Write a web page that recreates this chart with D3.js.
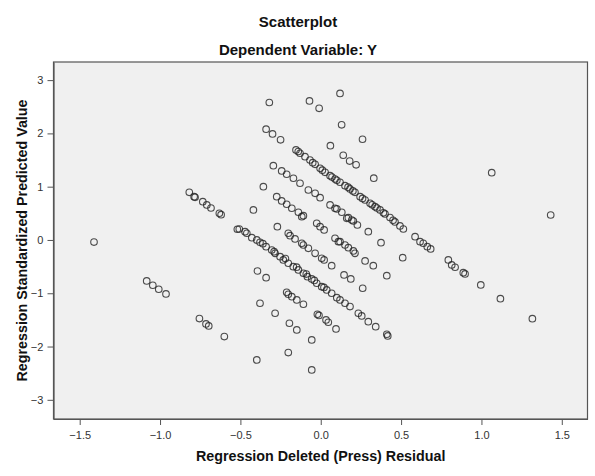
<!DOCTYPE html>
<html>
<head>
<meta charset="utf-8">
<script src="https://cdn.jsdelivr.net/npm/d3@7"></script>
<style>
  body { margin: 0; background: #ffffff; }
  svg text { font-family: "Liberation Sans", Arial, sans-serif; }
  .title { font-size: 15px; font-weight: bold; fill: #111; }
  .axis-title { font-size: 14.3px; font-weight: bold; fill: #111; }
  .tick text { font-size: 11px; fill: #333; }
</style>
</head>
<body>
<div id="chart"></div>
<script>
(function () {
  "use strict";

  // Regression Deleted (Press) Residual
  var residual = [
    -0.32, -0.07, -0.01, 0.12, 0.13, -0.34, -0.30, -0.25, 0.06, 0.26, 0.14, 0.18, 0.22, 0.33,
    -0.154, -0.129, -0.098, -0.067, -0.035, -0.004, 0.027, 0.058, 0.089, 0.120, 0.151, 0.182,
    0.213, 0.245, 0.276, 0.307, 0.338, 0.369, 0.400, 0.431, 0.462, 0.493, 0.514, 0.587, 0.618,
    0.638, 0.663, 0.684, 0.794, 0.815, 0.836, 0.887, 0.898, 0.996, 1.118, 1.317,
    -0.14, -0.05, 0.01, 0.07, 0.10, 0.17, 0.20, 0.26, 0.32, 0.35, 0.39, 0.45,
    -0.295, -0.243, -0.212, -0.170, -0.129, -0.077, -0.035, -0.004, 0.058, 0.089, 0.100, 0.131,
    0.172, 0.203, 0.162, 0.193, 0.228, 0.296, 0.375, 0.510,
    -0.357, -0.274, -0.243, -0.212, -0.180, -0.139, -0.108, -0.118, -0.025, -0.004, 0.021,
    0.089, 0.110, 0.120, 0.151, 0.172, 0.203, 0.213, 0.276, 0.327, 0.411,
    -0.818, -0.788, -0.782, -0.734, -0.709, -0.683, -0.631, -0.620, -0.519, -0.507, -0.471,
    -0.460, -0.429, -0.398, -0.378, -0.340, -0.305, -0.284, -0.253, -0.233, -0.202, -0.171,
    -0.139, -0.108, -0.083, -0.056, -0.025, 0.006, 0.037, 0.068, 0.100, 0.120, 0.151, 0.182,
    0.234, 0.255, 0.296, 0.342, 0.411, 0.417,
    -0.36, -0.29, -0.22, -0.15, -0.09, -0.04, 0.02,
    -0.419, -0.270, -0.202, -0.191, -0.160, -0.118, -0.108, -0.077, -0.035, 0.006, 0.021,
    0.068, 0.145, 0.187, 0.261,
    -0.394, -0.340, -0.212, -0.202, -0.180, -0.149, -0.108, -0.021, -0.011, 0.033, 0.047, 0.095,
    -0.378, -0.284, -0.195, -0.149, -0.056,
    -1.411, -1.083, -1.045, -1.008, -0.963, -0.755, -0.714, -0.697, -0.600,
    -0.398, -0.202, -0.056, 1.064, 1.431
  ];

  // Regression Standardized Predicted Value
  var predicted = [
    2.58, 2.61, 2.47, 2.75, 2.16, 2.08, 1.99, 1.88, 1.77, 1.89, 1.59, 1.48, 1.41, 1.16,
    1.689, 1.627, 1.563, 1.501, 1.420, 1.345, 1.270, 1.206, 1.144, 1.083, 1.019, 0.957,
    0.895, 0.812, 0.750, 0.689, 0.625, 0.563, 0.488, 0.422, 0.338, 0.263, 0.206, 0.062, -0.032,
    -0.062, -0.126, -0.169, -0.375, -0.469, -0.512, -0.613, -0.638, -0.844, -1.101, -1.477,
    1.66, 1.45, 1.31, 1.18, 1.12, 0.99, 0.92, 0.78, 0.66, 0.60, 0.51, 0.37,
    1.394, 1.295, 1.233, 1.158, 1.064, 0.938, 0.876, 0.794, 0.657, 0.595, 0.582, 0.520,
    0.418, 0.356, 0.407, 0.375, 0.281, 0.156, -0.051, -0.332,
    1.000, 0.812, 0.732, 0.670, 0.595, 0.520, 0.456, 0.437, 0.313, 0.250, 0.188,
    0.032, -0.032, -0.032, -0.094, -0.144, -0.206, -0.250, -0.394, -0.482, -0.670,
    0.895, 0.812, 0.801, 0.719, 0.657, 0.600, 0.501, 0.475, 0.201, 0.206, 0.156,
    0.126, 0.043, 0.000, -0.043, -0.126, -0.188, -0.250, -0.313, -0.375, -0.437, -0.501,
    -0.563, -0.625, -0.689, -0.732, -0.812, -0.876, -0.938, -1.000, -1.083, -1.126, -1.188, -1.251,
    -1.375, -1.426, -1.533, -1.627, -1.769, -1.801,
    -0.07, -0.22, -0.35, -0.51, -0.64, -0.76, -0.89,
    0.563, 0.250, 0.126, 0.081, 0.019, -0.062, -0.094, -0.156, -0.250, -0.343, -0.375,
    -0.482, -0.657, -0.732, -0.906,
    -0.582, -0.707, -0.981, -1.019, -1.064, -1.126, -1.206, -1.394, -1.416, -1.501, -1.544, -1.670,
    -1.188, -1.375, -1.563, -1.689, -1.876,
    -0.040, -0.769, -0.850, -0.925, -1.013, -1.476, -1.576, -1.613, -1.814,
    -2.251, -2.114, -2.439, 1.263, 0.469
  ];

  var xTicks = [-1.5, -1.0, -0.5, 0.0, 0.5, 1.0, 1.5];
  var yTicks = [-3, -2, -1, 0, 1, 2, 3];

  var width = 595,
      height = 476,
      plot = { left: 53.5, right: 587.5, top: 62, bottom: 419 },
      svg, x, y, points;

  points = residual.map(function (r, i) {
    return { x: r, y: predicted[i] };
  });

  // svg Setting
  svg = d3.select("#chart")
    .append("svg")
    .attr("width", width)
    .attr("height", height);

  // Scales
  x = d3.scaleLinear().domain([-1.663, 1.66]).range([plot.left, plot.right]);
  y = d3.scaleLinear().domain([-3.36, 3.34]).range([plot.bottom, plot.top]);

  // Plot background
  svg.append("rect")
    .attr("x", plot.left)
    .attr("y", plot.top)
    .attr("width", plot.right - plot.left)
    .attr("height", plot.bottom - plot.top)
    .attr("fill", "#f0f0f0")
    .attr("stroke", "#555")
    .attr("stroke-width", 1.2);

  // Axes
  var xAxis = svg.append("g")
    .attr("transform", "translate(0," + plot.bottom + ")")
    .call(d3.axisBottom(x).tickValues(xTicks).tickSize(6).tickSizeOuter(0).tickFormat(d3.format(".1f")));

  var yAxis = svg.append("g")
    .attr("transform", "translate(" + plot.left + ",0)")
    .call(d3.axisLeft(y).tickValues(yTicks).tickSize(6).tickSizeOuter(0).tickFormat(d3.format("d")));

  [xAxis, yAxis].forEach(function (a) {
    a.select(".domain").attr("stroke", "#555").attr("stroke-width", 1.2);
    a.selectAll(".tick line").attr("stroke", "#555");
  });
  xAxis.selectAll(".tick text").attr("dy", "1.0em");
  yAxis.selectAll(".tick text").attr("dx", "-0.1em");

  // Points
  svg.append("g")
    .selectAll("circle")
    .data(points)
    .enter()
    .append("circle")
    .attr("cx", function (d) { return x(d.x); })
    .attr("cy", function (d) { return y(d.y); })
    .attr("r", 3.3)
    .attr("fill", "none")
    .attr("stroke", "#222")
    .attr("stroke-opacity", 0.8)
    .attr("stroke-width", 1.1);

  // Titles
  svg.append("text")
    .attr("class", "title")
    .attr("x", 298)
    .attr("y", 27)
    .attr("text-anchor", "middle")
    .text("Scatterplot");

  svg.append("text")
    .attr("class", "title")
    .attr("x", 298)
    .attr("y", 55)
    .attr("text-anchor", "middle")
    .text("Dependent Variable: Y");

  svg.append("text")
    .attr("class", "axis-title")
    .attr("x", 320.7)
    .attr("y", 461)
    .attr("text-anchor", "middle")
    .text("Regression Deleted (Press) Residual");

  svg.append("text")
    .attr("class", "axis-title")
    .attr("transform", "translate(27," + (plot.top + plot.bottom) / 2 + ") rotate(-90)")
    .attr("text-anchor", "middle")
    .text("Regression Standardized Predicted Value");
}());
</script>
</body>
</html>
